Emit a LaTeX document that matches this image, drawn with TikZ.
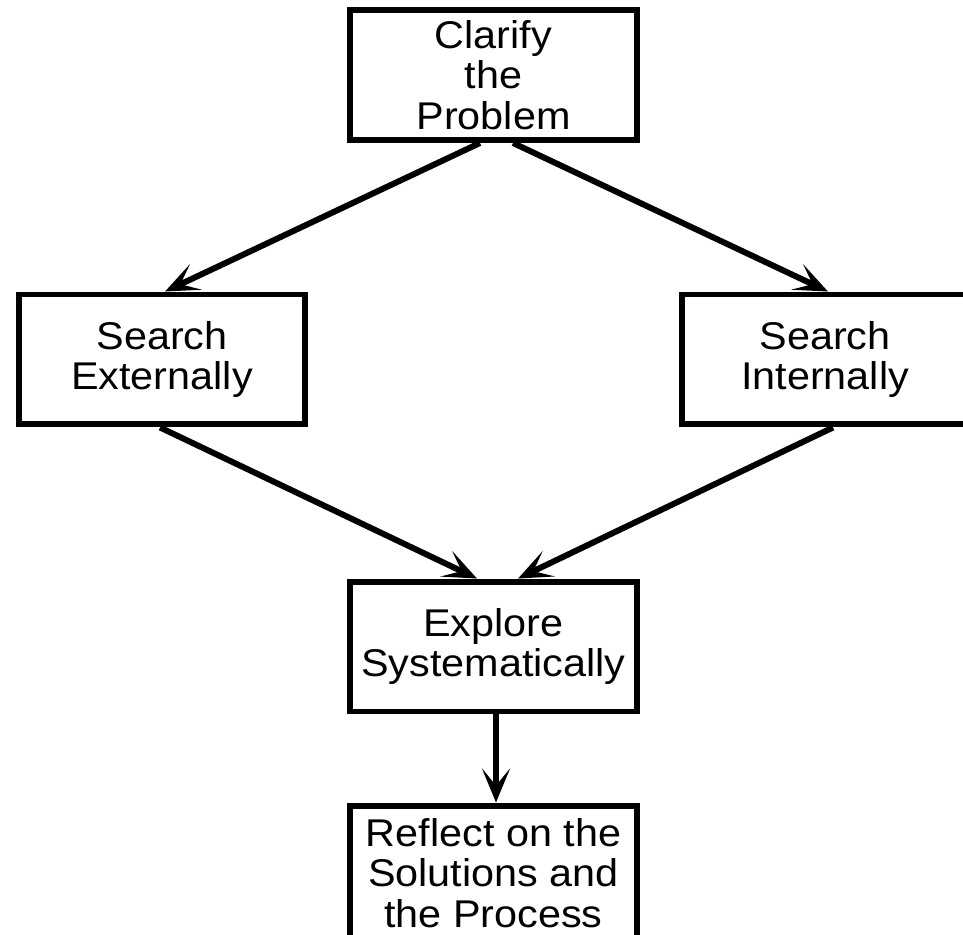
\documentclass[tikz,border=0pt]{standalone}
\usepackage{fontspec}
\setmainfont{Liberation Sans}[FakeStretch=1.07]
\usetikzlibrary{arrows.meta}

\begin{document}
\begin{tikzpicture}[
  x=0.02cm,
  y=-0.02cm,
  flowbox/.style={draw=black, line width=3.4pt, minimum width=5.74cm,
    minimum height=2.6cm, inner sep=0pt, align=center,
    font=\fontsize{22}{23}\selectfont},
  flowarrow/.style={-{Stealth[length=0.68cm, width=0.56cm, inset=0.34cm]},
    line width=3.4pt}
]
  \useasboundingbox (0,0) rectangle (963,935);
  \clip (0,0) rectangle (963,935);

  % Boxes
  \node[flowbox] (clarify) at (493.5,75) {Clarify\\the\\Problem};
  \node[flowbox] (external) at (162,359.5) {Search\\Externally};
  \node[flowbox] (internal) at (825,359.5) {Search\\Internally};
  \node[flowbox] (explore) at (493.5,646.5) {Explore\\Systematically};
  \node[flowbox, minimum height=2.7cm] (reflect) at (493.5,873) {Reflect on the\\Solutions and\\the Process};

  % Arrows
  \draw[flowarrow] ([xshift=-0.27cm]clarify.south) -- ([xshift=0.06cm]external.north);
  \draw[flowarrow] ([xshift=0.39cm]clarify.south) -- ([xshift=0.06cm]internal.north);
  \draw[flowarrow] ([xshift=-0.04cm]external.south) -- ([xshift=-0.33cm]explore.north);
  \draw[flowarrow] ([xshift=0.16cm]internal.south) -- ([xshift=0.49cm]explore.north);
  \draw[flowarrow] ([xshift=0.05cm]explore.south) -- ([xshift=0.05cm]reflect.north);
\end{tikzpicture}
\end{document}
